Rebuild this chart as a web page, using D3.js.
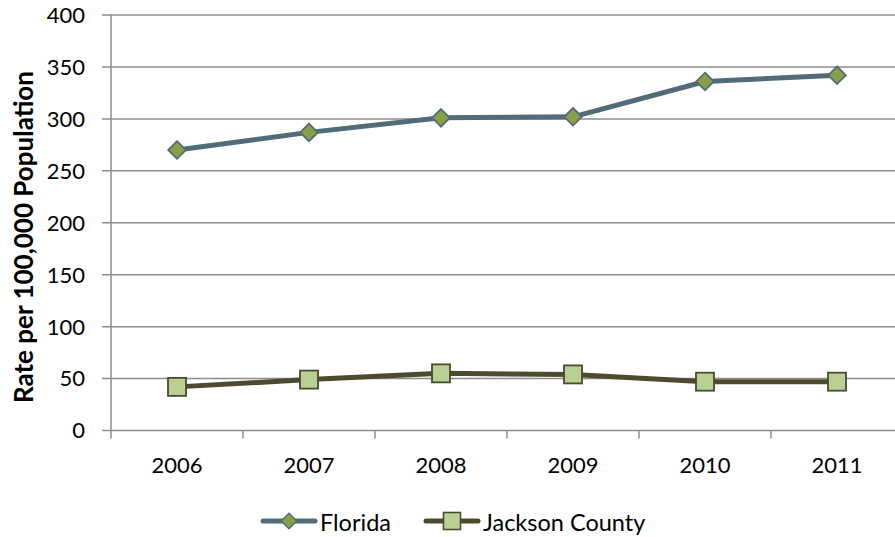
<!DOCTYPE html>
<html>
<head>
<meta charset="utf-8">
<script src="https://cdn.jsdelivr.net/npm/d3@7"></script>
<style>
  html, body { margin: 0; padding: 0; background: #fff; }
  svg { display: block; font-family: Lato, "Open Sans", sans-serif; }
</style>
</head>
<body>
<svg id="chart" width="895" height="537"></svg>
<script>
// Rates per 100,000 population by year
const years = ["2006", "2007", "2008", "2009", "2010", "2011"];
const florida = [270, 287, 301, 302, 336, 342];
const jackson = [42, 49, 55, 54, 47, 47];
const yTicks = [0, 50, 100, 150, 200, 250, 300, 350, 400];

const series = [
  { name: "Florida", values: florida, line: "#516c78", fill: "#87a046", stroke: "#516c78", shape: "diamond" },
  { name: "Jackson County", values: jackson, line: "#4d4a2f", fill: "#b9d093", stroke: "#4d4a2f", shape: "square" }
];

const svg = d3.select("#chart");
const plotLeft = 111, plotTop = 15, plotBottom = 430.5;
const band = 132;
const fontSize = 22;

const x = d3.scaleBand().domain(years).range([plotLeft, plotLeft + band * years.length]).padding(0);
const y = d3.scaleLinear().domain([0, 400]).range([plotBottom, plotTop]);

// Horizontal gridlines
svg.append("g").selectAll("line").data(yTicks).join("line")
  .attr("x1", plotLeft - 9).attr("x2", 895)
  .attr("y1", d => y(d)).attr("y2", d => y(d))
  .attr("stroke", "#8c8c8c").attr("stroke-width", 1.5);

// Y axis labels
svg.append("g").selectAll("text").data(yTicks).join("text")
  .attr("x", 85).attr("y", d => y(d)).attr("dy", "0.36em")
  .attr("text-anchor", "end").attr("font-size", fontSize).attr("fill", "#000")
  .text(d => d);

// Y axis line
svg.append("line").attr("x1", plotLeft).attr("x2", plotLeft).attr("y1", plotTop).attr("y2", plotBottom)
  .attr("stroke", "#8c8c8c").attr("stroke-width", 1.5);

// X axis with tick marks between categories
const xAxis = d3.axisBottom(x).tickSize(0);
const gx = svg.append("g").attr("transform", `translate(0,${plotBottom})`).call(xAxis);
gx.select(".domain").remove();
gx.selectAll("text").attr("font-size", fontSize).attr("fill", "#000")
  .attr("y", 42.5).attr("dy", 0)
  .attr("font-family", "Lato, 'Open Sans', sans-serif");
const boundaries = d3.range(years.length + 1).map(i => plotLeft + i * band);
svg.append("g").selectAll("line").data(boundaries).join("line")
  .attr("x1", d => d).attr("x2", d => d).attr("y1", plotBottom).attr("y2", plotBottom + 8)
  .attr("stroke", "#8c8c8c").attr("stroke-width", 1.5);

// Y axis title
svg.append("text")
  .attr("transform", `translate(24,237) rotate(-90)`)
  .attr("text-anchor", "middle").attr("dy", "0.36em")
  .attr("font-size", 26).attr("font-weight", "bold")
  .text("Rate per 100,000 Population");

function drawMarker(g, shape, cx, cy, s) {
  if (shape === "diamond") {
    const r = s * 0.55;
    g.append("path").attr("d", `M${cx},${cy - r}L${cx + r},${cy}L${cx},${cy + r}L${cx - r},${cy}Z`);
  } else {
    g.append("rect").attr("x", cx - s / 2).attr("y", cy - s / 2).attr("width", s).attr("height", s);
  }
}

const cx = d => x(d) + x.bandwidth() / 2;
const line = d3.line().x(d => cx(d.year)).y(d => y(d.v));

series.forEach(s => {
  const pts = years.map((yr, i) => ({ year: yr, v: s.values[i] }));
  svg.append("path").datum(pts).attr("d", line)
    .attr("fill", "none").attr("stroke", s.line).attr("stroke-width", 5)
    .attr("stroke-linejoin", "round");
  const mg = svg.append("g").attr("fill", s.fill).attr("stroke", s.stroke).attr("stroke-width", 1.8);
  pts.forEach(p => drawMarker(mg, s.shape, cx(p.year), y(p.v), s.shape === "diamond" ? 16 : 18));
});

// Legend
const legendY = 521;
const legendItems = [
  { s: series[0], x0: 263 },
  { s: series[1], x0: 426 }
];
legendItems.forEach(it => {
  const g = svg.append("g");
  g.append("line").attr("x1", it.x0).attr("x2", it.x0 + 52).attr("y1", legendY).attr("y2", legendY)
    .attr("stroke", it.s.line).attr("stroke-width", 5).attr("stroke-linecap", "round");
  const mg = g.append("g").attr("fill", it.s.fill).attr("stroke", it.s.stroke).attr("stroke-width", 1.6);
  drawMarker(mg, it.s.shape, it.x0 + 26, legendY, it.s.shape === "diamond" ? 14 : 17);
  g.append("text").attr("x", it.x0 + 57).attr("y", legendY + 2).attr("dy", "0.36em")
    .attr("font-size", 23.5).text(it.s.name);
});
</script>
</body>
</html>
